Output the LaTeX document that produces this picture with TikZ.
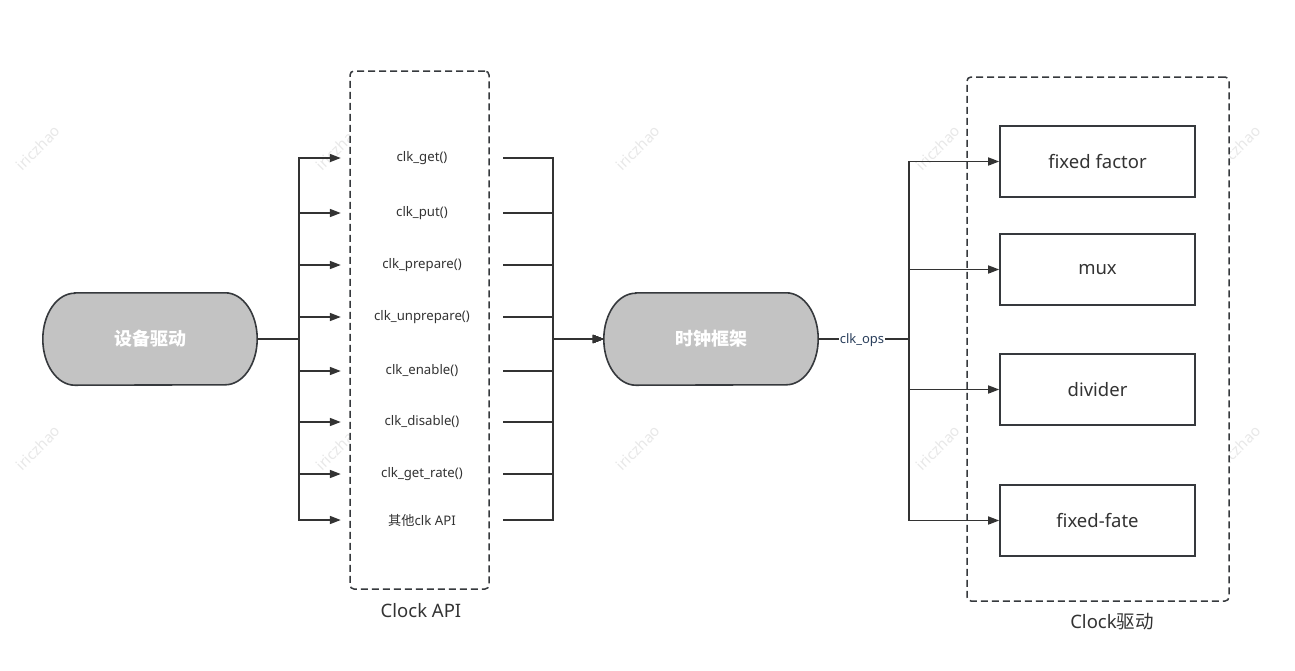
\documentclass[tikz,border=0pt]{standalone}
\usepackage{fontspec}
\setmainfont{Noto Sans}
\newfontfamily\cjk{Noto Sans CJK SC}
\usetikzlibrary{arrows.meta,calc}
\definecolor{ln}{HTML}{333333}
\definecolor{bd}{HTML}{36393D}
\definecolor{sfill}{HTML}{C3C3C3}
\definecolor{wmc}{HTML}{E8E8E8}
\definecolor{opsc}{HTML}{2A3F5C}
\begin{document}
\begin{tikzpicture}[x=1pt,y=-1pt,
  conn/.style={draw=ln,line width=1.6pt},
  arr/.style={conn,-{Triangle[length=11pt,width=8pt]}},
  stad/.style={minimum width=214pt,minimum height=92pt,inner sep=0pt,text=white,font=\cjk\bfseries\fontsize{18pt}{20pt}\selectfont},
  stadline/.style={draw=bd,line width=1.6pt,fill=sfill},
  item/.style={minimum width=162pt,minimum height=14pt,inner sep=0pt,text=ln,font=\fontsize{13.2pt}{15pt}\selectfont},
  dbox/.style={draw=bd,line width=1.5pt,dash pattern=on 7pt off 4pt,rounded corners=4pt,fill=white,inner sep=0pt},
  cbox/.style={draw=bd,line width=1.6pt,fill=white,minimum width=195pt,minimum height=71pt,inner sep=0pt,text=ln,font=\fontsize{18.5pt}{21pt}\selectfont},
  grplab/.style={text=ln,inner sep=0pt,font=\fontsize{18.5pt}{21pt}\selectfont},
  wm/.style={text=wmc,rotate=45,inner sep=0pt,font=\fontsize{15pt}{17pt}\selectfont},
  opslab/.style={fill=white,inner sep=1pt,text=opsc,font=\fontsize{13pt}{15pt}\selectfont}
]
\useasboundingbox[fill=white] (0,0) rectangle (1295,670);

% watermarks
\foreach \wx in {38,338,638,938,1238}{
  \foreach \wy in {148,448}{
    \node[wm] (wm-\wx-\wy) at (\wx,\wy) {iriczhao};
  }
}

% group boxes
\node[dbox,minimum width=139pt,minimum height=518pt] (api) at (419.5,330) {};
\node[grplab] (apilab) at (421,611) {Clock API};
\node[dbox,minimum width=262pt,minimum height=524pt] (drv) at (1098,339) {};
\node[grplab] (drvlab) at (1112,622) {Clock{\cjk 驱动}};

% stadium nodes
\node[stad] (sb) at (150,339) {};
\node[stad] (fw) at (711,339) {};
\foreach \n in {sb,fw}{
  \path[stadline] ([xshift=32pt]\n.north west) -- ([xshift=-32pt]\n.north east)
     arc[start angle=90,end angle=-90,x radius=32pt,y radius=46pt]
     -- ([xshift=32pt]\n.south west)
     arc[start angle=270,end angle=90,x radius=32pt,y radius=46pt] -- cycle;
}
\node[stad] (sbt) at (sb.center) {设备驱动};
\node[stad] (fwt) at (fw.center) {时钟框架};

% API items
\node[item] (i1) at (422,158) {clk\_get()};
\node[item] (i2) at (422,213) {clk\_put()};
\node[item] (i3) at (422,265) {clk\_prepare()};
\node[item] (i4) at (422,317) {clk\_unprepare()};
\node[item] (i5) at (422,371) {clk\_enable()};
\node[item] (i6) at (422,422) {clk\_disable()};
\node[item] (i7) at (422,474) {clk\_get\_rate()};
\node[item] (i8) at (422,520) {{\cjk 其他}clk API};

\foreach \i in {i1,i2,i3,i4,i5,i6,i7,i8}{
  \draw[arr] (sb.east) -- ++(42,0) |- (\i.west);
  \draw[arr] (\i.east) -- ++(50,0) |- (fw.west);
}

% clock driver boxes
\node[cbox] (b1) at (1097.5,161.5) {fixed factor};
\node[cbox] (b2) at (1097.5,269.5) {mux};
\node[cbox] (b3) at (1097.5,389.5) {divider};
\node[cbox] (b4) at (1097.5,520.5) {fixed-fate};

\foreach \b in {b1,b2,b3,b4}{
  \draw[arr] (fw.east) -- ++(91,0) |- (\b.west);
}
\node[opslab] (ops) at (862,340) {clk\_ops};
\end{tikzpicture}
\end{document}
